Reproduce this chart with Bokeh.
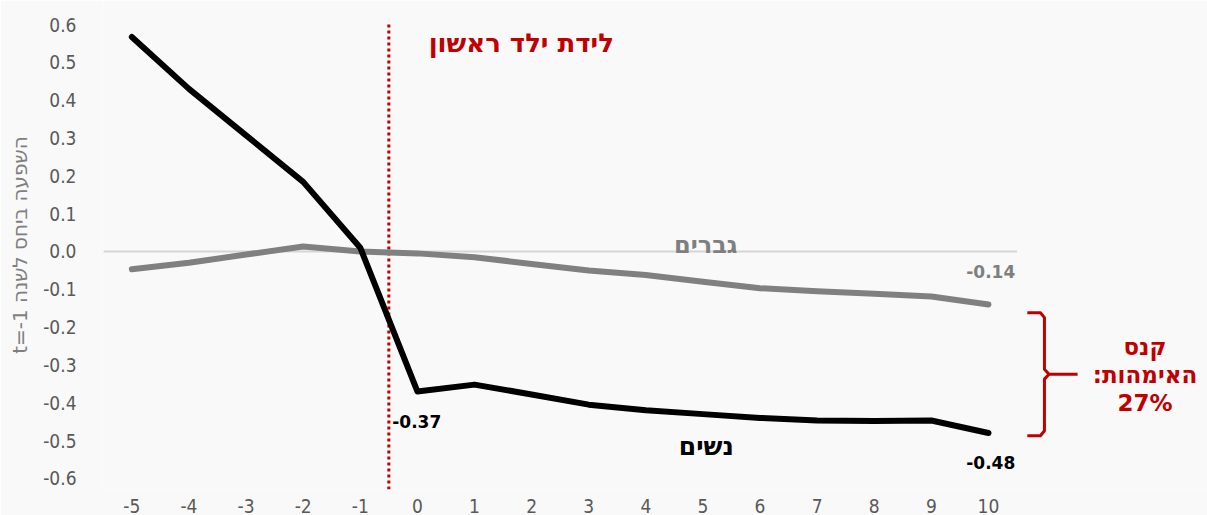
from bokeh.plotting import figure
from bokeh.models import FixedTicker, Range1d, CustomJSTickFormatter
from bokeh.core.properties import value
from bokeh.embed import file_html
from bokeh.resources import INLINE

# Years relative to first child's birth
years = [-5, -4, -3, -2, -1, 0, 1, 2, 3, 4, 5, 6, 7, 8, 9, 10]
# Effect on earnings relative to year t=-1
women = [0.567, 0.43, 0.307, 0.184, 0.01, -0.37, -0.352, -0.378, -0.405,
         -0.42, -0.43, -0.44, -0.447, -0.448, -0.447, -0.48]
men = [-0.047, -0.03, -0.008, 0.013, 0.0, -0.005, -0.015, -0.033, -0.05,
       -0.062, -0.08, -0.097, -0.105, -0.112, -0.119, -0.14]
y_ticks = [-0.6, -0.5, -0.4, -0.3, -0.2, -0.1, 0.0, 0.1, 0.2, 0.3, 0.4, 0.5, 0.6]
birth_x = -0.5
penalty_label = "27%"

RED = "#c00000"
GRAY = "#7f7f7f"
BG = "#f9f9f9"
TICK_FONT = "Liberation Sans Narrow, DejaVu Sans Condensed, Liberation Sans, sans-serif"

p = figure(width=1207, height=515, output_backend="svg", toolbar_location=None,
           x_range=Range1d(-5.496, 13.835), y_range=Range1d(-0.6293, 0.6636),
           min_border_left=103, min_border_right=0, min_border_top=0,
           min_border_bottom=25)
p.background_fill_color = BG
p.border_fill_color = BG
p.outline_line_color = None
p.xgrid.visible = False
p.ygrid.visible = False

for ax in (p.xaxis[0], p.yaxis[0]):
    ax.axis_line_color = None
    ax.major_tick_line_color = None
    ax.minor_tick_line_color = None
    ax.major_label_text_font = TICK_FONT
    ax.major_label_text_font_size = "19px"
    ax.major_label_text_color = "#595959"

p.xaxis.ticker = FixedTicker(ticks=years)
p.xaxis.formatter = CustomJSTickFormatter(code="return String(tick);")
p.xaxis.major_label_standoff = 3
p.yaxis.ticker = FixedTicker(ticks=y_ticks)
p.yaxis.formatter = CustomJSTickFormatter(code="return tick.toFixed(1);")
p.yaxis.major_label_standoff = 21
p.yaxis.axis_label = "t=-1 השפעה ביחס לשנה"
p.yaxis.axis_label_text_font = "DejaVu Sans"
p.yaxis.axis_label_text_font_style = "normal"
p.yaxis.axis_label_text_font_size = "20px"
p.yaxis.axis_label_text_color = "#7f7f7f"
p.yaxis.axis_label_standoff = 8

# zero reference line
p.segment(x0=[years[0] - 0.5], y0=[0], x1=[years[-1] + 0.5], y1=[0],
          line_color="#d6d6d6", line_width=2)

# first birth marker
p.segment(x0=[birth_x], y0=[0.6], x1=[birth_x], y1=[-0.6293],
          line_color=RED, line_width=3, line_dash="3 3")

p.line(years, men, line_color="#808080", line_width=6, line_join="round", line_cap="round")
p.line(years, women, line_color="black", line_width=6, line_join="round", line_cap="round")

HEB = value("DejaVu Sans")
NUM = value("DejaVu Sans")

p.text(x=[1.82], y=[0.55], text=["לידת ילד ראשון"], text_font=HEB,
       text_font_style="bold", text_font_size="26px", text_color=RED,
       text_align="center", text_baseline="middle")
p.text(x=[5.05], y=[0.017], text=["גברים"], text_font=HEB,
       text_font_style="bold", text_font_size="24px", text_color=GRAY,
       text_align="center", text_baseline="middle")
p.text(x=[5.06], y=[-0.516], text=["נשים"], text_font=HEB,
       text_font_style="bold", text_font_size="25px", text_color="black",
       text_align="center", text_baseline="middle")

# value labels
p.text(x=[years[5] - 0.44], y=[women[5] - 0.08], text=[f"{women[5]:.2f}"],
       text_font=NUM, text_font_style="bold", text_font_size="17px",
       text_color="black", text_align="left", text_baseline="middle")
p.text(x=[years[-1] + 0.04], y=[women[-1] - 0.078], text=[f"{women[-1]:.2f}"],
       text_font=NUM, text_font_style="bold", text_font_size="17px",
       text_color="black", text_align="center", text_baseline="middle")
p.text(x=[years[-1] + 0.04], y=[men[-1] + 0.086], text=[f"{men[-1]:.2f}"],
       text_font=NUM, text_font_style="bold", text_font_size="17px",
       text_color=GRAY, text_align="center", text_baseline="middle")

# brace spanning the gap between the two series at the last year
x_end = years[-1]
top = men[-1] - 0.022
bot = women[-1] - 0.007
mid = (top + bot) / 2
r = 0.013
bx0, bx1, bx2 = x_end + 0.68, x_end + 0.98, x_end + 1.56
p.line([bx0, bx1 - 0.07, bx1, bx1, bx1 + 0.08, bx2],
       [top, top, top - r, mid + r, mid, mid],
       line_color=RED, line_width=3, line_join="round")
p.line([bx0, bx1 - 0.07, bx1, bx1, bx1 + 0.08],
       [bot, bot, bot + r, mid - r, mid],
       line_color=RED, line_width=3, line_join="round")

p.text(x=[12.74] * 3, y=[-0.252, -0.326, -0.40],
       text=["קנס", "האימהות:\u200f", penalty_label], text_font=HEB,
       text_font_style="bold", text_font_size="23px", text_color=RED,
       text_align="center", text_baseline="middle")

open("out.html", "w").write(file_html(p, INLINE))
